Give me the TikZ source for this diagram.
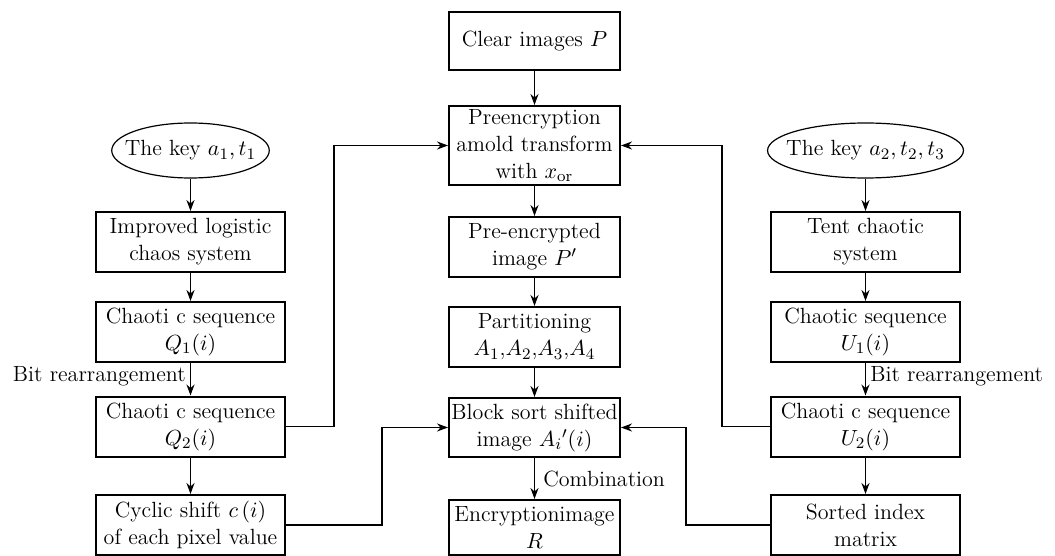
\documentclass[tikz,border=0pt]{standalone}
\usepackage{tikz}
\usetikzlibrary{shapes.geometric,arrows.meta}

\begin{document}
\begin{tikzpicture}[x=0.5pt,y=-0.5pt]
%define
\tikzstyle{state_k} = [ellipse, inner xsep=-5pt, inner ysep=0pt, text centered, draw=black, semithick, font=\fontsize{11}{13.5}\selectfont]
\tikzstyle{state_s} = [rectangle, minimum width=94.5pt, minimum height=30pt, inner sep=1pt, align=center, draw=black, line width=1pt, font=\fontsize{11}{13.5}\selectfont]
\tikzstyle{state_c} = [rectangle, minimum width=85.5pt, minimum height=30pt, inner sep=1pt, align=center, draw=black, line width=1pt, font=\fontsize{11}{13.5}\selectfont]
\tikzstyle{label_t} = [inner sep=2pt, font=\fontsize{11}{13.5}\selectfont]
\tikzstyle{arrow} = [-{Stealth[length=5.5pt,width=4pt]}, line width=0.85pt]

\useasboundingbox (0,0) rectangle (1055,556);

%left
\node[state_k, minimum width=77pt, minimum height=27.5pt](key_A) at (190.5,150.5){The key $a_1,t_1$};
\node[state_s](state_Logi) at (190.5,242){Improved logistic\\chaos system};
\node[state_s](state_QA) at (190.5,332){Chaoti c sequence\\$Q_1(i)$};
\node[state_s](state_QB) at (190.5,426.5){Chaoti c sequence\\$Q_2(i)$};
\node[state_s](state_Shift) at (190.5,525){Cyclic shift $c\,(i)$\\of each pixel value};
%center
\node[state_c, minimum height=29pt](state_Clear) at (534.5,41){Clear images $P$};
\node[state_c, minimum height=39.5pt](state_Pre) at (534.5,145.5){Preencryption\\amold transform\\with $x_{\mathrm{or}}$};
\node[state_c](state_PImg) at (534.5,247){Pre-encrypted\\image $P'$};
\node[state_c](state_Part) at (534.5,337){Partitioning\\$A_1$,$A_2$,$A_3$,$A_4$};
\node[state_c, minimum height=29.5pt](state_Block) at (534.5,427.5){Block sort shifted\\image $A_i{}'(i)$};
\node[state_c, minimum height=27.5pt](state_Enc) at (534.5,527.5){Encryptionimage\\$R$};
%right
\node[state_k, minimum width=93pt, minimum height=27.5pt](key_B) at (865.5,150.5){The key $a_2,t_2,t_3$};
\node[state_s](state_Tent) at (865.5,242){Tent chaotic\\system};
\node[state_s](state_UA) at (865.5,332){Chaotic sequence\\$U_1(i)$};
\node[state_s](state_UB) at (865.5,426.5){Chaoti c sequence\\$U_2(i)$};
\node[state_s](state_Sort) at (865.5,525){Sorted index\\matrix};

%line
\draw[arrow](key_A)--(state_Logi);
\draw[arrow](state_Logi)--(state_QA);
\draw[arrow](state_QA)--node[label_t, left, pos=0.4]{Bit rearrangement}(state_QB);
\draw[arrow](state_QB)--(state_Shift);
\draw[arrow](state_Clear)--(state_Pre);
\draw[arrow](state_Pre)--(state_PImg);
\draw[arrow](state_PImg)--(state_Part);
\draw[arrow](state_Part)--(state_Block);
\draw[arrow](state_Block)--node[label_t, right, xshift=2pt]{Combination}(state_Enc);
\draw[arrow](key_B)--(state_Tent);
\draw[arrow](state_Tent)--(state_UA);
\draw[arrow](state_UA)--node[label_t, right, pos=0.4]{Bit rearrangement}(state_UB);
\draw[arrow](state_UB)--(state_Sort);
\draw[arrow](state_QB.east)--++(48,0)|-(state_Pre.west); %Q2->Pre
\draw[arrow](state_UB.west)--++(-48,0)|-(state_Pre.east); %U2->Pre
\draw[arrow](state_Shift.east)--++(96,0)|-(state_Block.west); %Shift->Block
\draw[arrow](state_Sort.west)--++(-84,0)|-(state_Block.east); %Sort->Block

\end{tikzpicture}
\end{document}
